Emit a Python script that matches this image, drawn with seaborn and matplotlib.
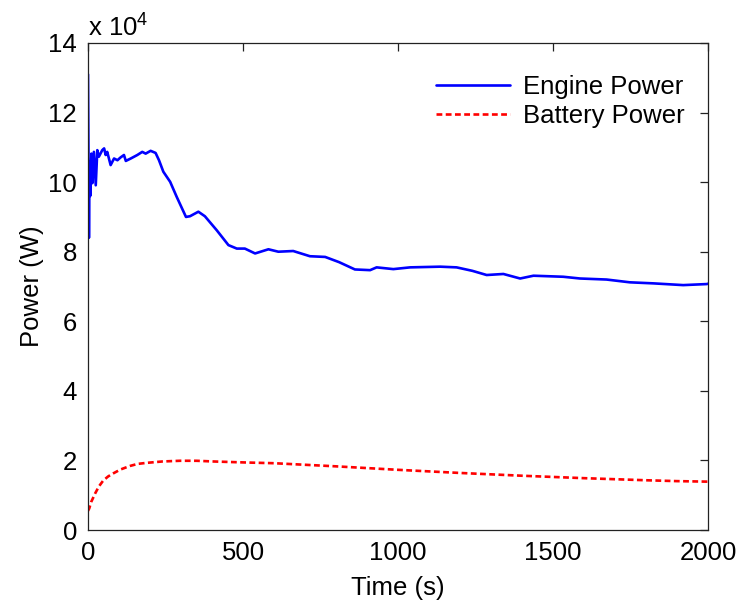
import matplotlib
matplotlib.use("Agg")
import matplotlib.pyplot as plt
import seaborn as sns
import pandas as pd
from matplotlib.ticker import FuncFormatter

# ---- data ----
engine_time = [0, 3, 5, 7, 11, 14, 19, 25, 30, 35, 46, 52, 57, 62, 73, 84, 95, 105,
               116, 122, 138, 159, 175, 186, 202, 218, 229, 243, 265, 286, 316, 329,
               356, 377, 415, 453, 480, 506, 539, 582, 614, 662, 716, 765, 810, 861,
               910, 931, 985, 1039, 1136, 1189, 1240, 1286, 1340, 1394, 1437, 1533,
               1587, 1673, 1748, 1824, 1920, 1996, 2000]
engine_power = [131000, 84000, 106000, 96000, 108200, 99700, 108700, 99100, 109200,
                107300, 109200, 109700, 107800, 108700, 104900, 106800, 106300, 107100,
                107800, 106100, 106800, 107800, 108700, 108200, 109000, 108400, 106300,
                103000, 100100, 95800, 90000, 90200, 91500, 90200, 86200, 81900, 80900,
                80900, 79500, 80700, 80000, 80200, 78700, 78500, 77000, 74900, 74700,
                75500, 75000, 75500, 75700, 75500, 74500, 73300, 73600, 72300, 73100,
                72800, 72300, 72000, 71200, 70900, 70400, 70700, 70800]

battery_time = [0, 4, 10, 23, 35, 49, 65, 82, 105, 135, 160, 189, 240, 297, 350, 404,
                512, 600, 700, 800, 900, 1000, 1100, 1200, 1300, 1400, 1500, 1600,
                1700, 1800, 1900, 2000]
battery_power = [5500, 6200, 8000, 10500, 12500, 14200, 15400, 16300, 17400, 18400,
                 19000, 19300, 19700, 19900, 19900, 19700, 19400, 19200, 18750, 18300,
                 17800, 17300, 16850, 16400, 16000, 15600, 15250, 14900, 14600, 14300,
                 14050, 13900]

x_ticks = [0, 500, 1000, 1500, 2000]
y_ticks = [0, 20000, 40000, 60000, 80000, 100000, 120000, 140000]

engine_df = pd.DataFrame({"Time": engine_time, "Power": engine_power})
battery_df = pd.DataFrame({"Time": battery_time, "Power": battery_power})

sns.set_theme(style="white")
plt.rcParams["font.family"] = ["Liberation Sans", "DejaVu Sans"]
plt.rcParams["mathtext.fontset"] = "custom"
plt.rcParams["mathtext.rm"] = "Liberation Sans"
plt.rcParams["mathtext.it"] = "Liberation Sans"
for k in ["text.color", "axes.labelcolor", "xtick.color", "ytick.color"]:
    plt.rcParams[k] = "black"

fig = plt.figure(figsize=(7.37, 6.02), dpi=100)
ax = fig.add_axes([88 / 737, 72 / 602, 620 / 737, 487 / 602])

sns.lineplot(data=engine_df, x="Time", y="Power", ax=ax, color="#0000ff",
             linewidth=1.9, label="Engine Power", estimator=None, sort=False)
sns.lineplot(data=battery_df, x="Time", y="Power", ax=ax, color="#ff0000",
             linewidth=1.9, linestyle=(0, (2.2, 1.3)), label="Battery Power",
             estimator=None, sort=False)

ax.set_xlim(0, 2000)
ax.set_ylim(0, 140000)
ax.set_xticks(x_ticks)
ax.set_yticks(y_ticks)
ax.yaxis.set_major_formatter(FuncFormatter(lambda v, p: f"{v / 1e4:g}"))

fs = 18.5
ax.tick_params(direction="in", top=True, right=True, length=6, width=0.9,
               labelsize=fs, color="#222222", labelcolor="black", pad=8)
for s in ax.spines.values():
    s.set_visible(True)
    s.set_color("#222222")
    s.set_linewidth(0.9)

ax.set_xlabel("Time (s)", fontsize=fs, labelpad=8)
ax.set_ylabel("Power (W)", fontsize=fs, labelpad=3)
ax.text(0.0, 1.002, "x 10$^{4}$", transform=ax.transAxes, ha="left", va="bottom",
        fontsize=fs)

leg = ax.legend(loc="upper right", frameon=False, fontsize=fs, handlelength=2.9,
                handletextpad=0.5, labelspacing=0.2, borderaxespad=0,
                bbox_to_anchor=(1 - 13 / 620, 1 - 22 / 487))

fig.savefig("out.png", dpi=100)
